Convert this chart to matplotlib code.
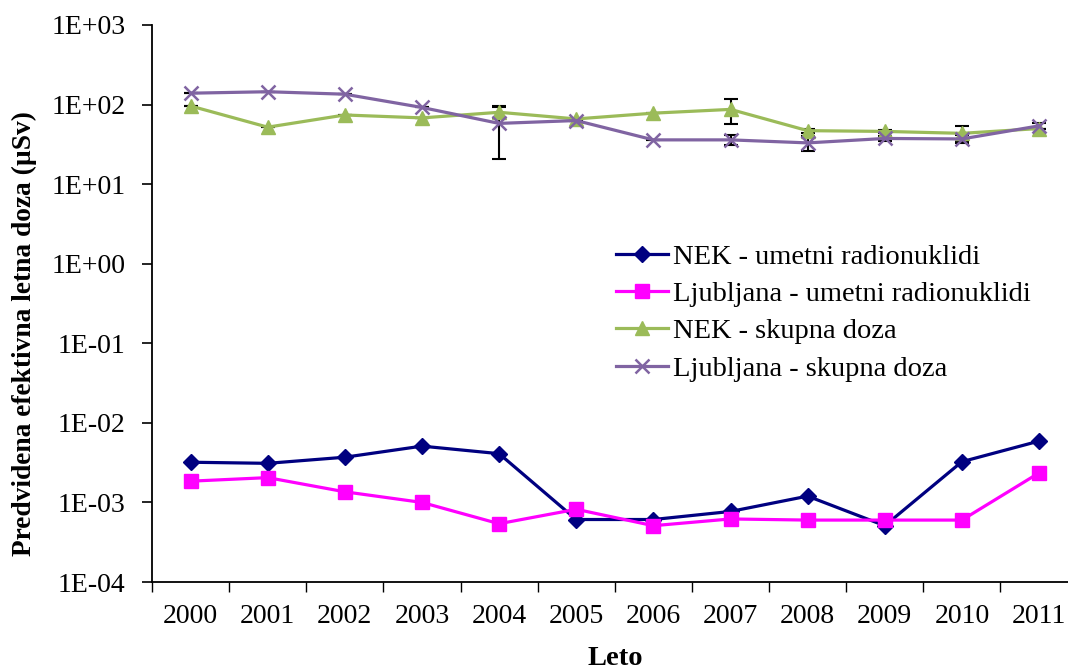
import numpy as np
import matplotlib
matplotlib.use('Agg')
import matplotlib.pyplot as plt
from matplotlib.ticker import FixedLocator, FuncFormatter, NullFormatter

years = ['2000', '2001', '2002', '2003', '2004', '2005',
         '2006', '2007', '2008', '2009', '2010', '2011']

nek_umetni = [3.2e-3, 3.1e-3, 3.7e-3, 5.1e-3, 4.1e-3, 6.1e-4,
              6.1e-4, 7.7e-4, 1.2e-3, 5.1e-4, 3.25e-3, 5.9e-3]
lj_umetni = [1.85e-3, 2.05e-3, 1.36e-3, 1.0e-3, 5.4e-4, 8.2e-4,
             5.1e-4, 6.2e-4, 6.0e-4, 6.0e-4, 6.0e-4, 2.35e-3]
nek_skupna = [96, 52, 74, 68, 80, 66, 78, 87, 47, 46, 43.5, 50]
lj_skupna = [139, 145, 135, 92, 58, 63, 36, 36, 33, 37.5, 37, 54]

nek_skupna_err = [0, 0, 0, 0, 13, 0, 0, 30, 3, 2, 10, 0]
lj_skupna_err = [0, 0, 0, 0, 37, 0, 0, 5, 7, 3, 4, 5]

plt.rcParams['font.family'] = ['Liberation Serif', 'DejaVu Serif']

fig = plt.figure(figsize=(10.68, 6.69), dpi=100)
ax = fig.add_axes([152 / 1068, 1 - 582 / 669, (1077.6 - 152) / 1068, (582 - 25) / 669])

x = np.arange(len(years))

# error bars first so the markers sit on top
ax.errorbar(x, nek_skupna, yerr=nek_skupna_err, fmt='none', ecolor='black',
            elinewidth=1.5, capsize=5, capthick=1.5, zorder=2)
ax.errorbar(x, lj_skupna, yerr=lj_skupna_err, fmt='none', ecolor='black',
            elinewidth=1.5, capsize=5, capthick=1.5, zorder=2)

ax.plot(x, nek_umetni, color='#000080', lw=2.3, marker='D', ms=8.5,
        label='NEK - umetni radionuklidi', zorder=3)
ax.plot(x, lj_umetni, color='#FF00FF', lw=2.3, marker='s', ms=9.5,
        label='Ljubljana - umetni radionuklidi', zorder=3)
ax.plot(x, nek_skupna, color='#9BBB59', lw=2.3, marker='^', ms=10.5,
        label='NEK - skupna doza', zorder=3)
ax.plot(x, lj_skupna, color='#8064A2', lw=2.3, marker='x', ms=10, mew=1.8,
        label='Ljubljana - skupna doza', zorder=4)

ax.set_yscale('log')
ax.set_ylim(1e-4, 1e3)
ax.set_xlim(-0.5, len(years) - 0.5)

ax.yaxis.set_major_locator(FixedLocator([10.0 ** k for k in range(-4, 4)]))
ax.yaxis.set_minor_locator(FixedLocator([]))
ax.yaxis.set_major_formatter(FuncFormatter(lambda v, p: f'{v:.0E}'))

ax.xaxis.set_major_locator(FixedLocator(np.arange(-0.5, len(years), 1.0)))
ax.xaxis.set_major_formatter(NullFormatter())
ax.xaxis.set_minor_locator(FixedLocator(x))
ax.set_xticklabels(years, minor=True)

ax.tick_params(axis='y', which='major', direction='out', length=7, width=1.2,
               labelsize=20, pad=12)
ax.tick_params(axis='x', which='major', direction='out', length=7, width=1.0)
ax.tick_params(axis='x', which='minor', length=0, labelsize=20, pad=16)

for s in ['top', 'right']:
    ax.spines[s].set_visible(False)
for s in ['left', 'bottom']:
    ax.spines[s].set_linewidth(1.3)

ax.set_ylabel('Predvidena efektivna letna doza (µSv)', fontsize=19.7,
              fontweight='bold')
ax.yaxis.set_label_coords(-0.1242, 0.446)
ax.set_xlabel('Leto', fontsize=20.5, fontweight='bold', labelpad=12)

ax.legend(loc='upper left', bbox_to_anchor=(0.489, 0.627), frameon=False,
          fontsize=20.5, handlelength=1.83, handletextpad=0.18,
          labelspacing=0.395, borderaxespad=0)

fig.savefig('out.png', dpi=100)
